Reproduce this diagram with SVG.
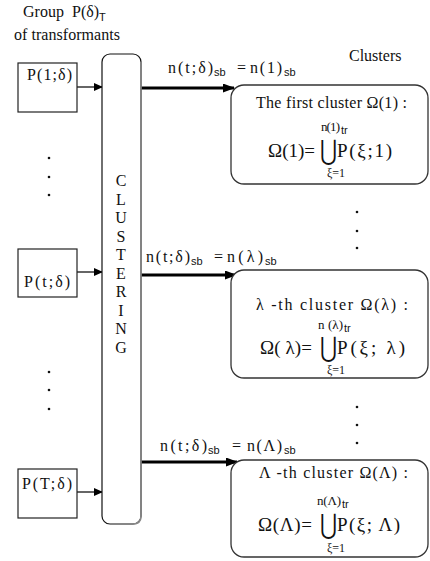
<svg xmlns="http://www.w3.org/2000/svg" width="430" height="561" viewBox="0 0 430 561">
<defs>
<marker id="ah" markerWidth="10" markerHeight="10" refX="8" refY="4" orient="auto" markerUnits="userSpaceOnUse"><path d="M0,0 L9,4 L0,8 Z" fill="#000"/></marker>
<marker id="ah2" markerWidth="12" markerHeight="10" refX="11" refY="4.5" orient="auto" markerUnits="userSpaceOnUse"><path d="M0,0 L12,4.5 L0,9 Z" fill="#000"/></marker>
<style>
text{font-family:"Liberation Serif","Times New Roman",serif;fill:#111}
.t{font-size:16px}
.sub{font-family:"Liberation Sans",Arial,sans-serif;font-size:11px}
.m{font-size:19px}
.sm{font-size:13px}
.xs{font-size:12px}
.u{font-family:"DejaVu Serif",serif;font-size:21px}
.box{fill:#fff;stroke:#222;stroke-width:1.2}
.cbox{fill:#fff;stroke:#333;stroke-width:1.3}
.dot{fill:#111}
</style>
</defs>
<rect width="430" height="561" fill="#fff"/>

<g id="title">
<text class="t" x="23" y="17">Group <tspan x="72">P(δ)</tspan><tspan class="sub" dy="4" font-size="13">T</tspan></text>
<text class="t" x="14" y="40" textLength="106">of transformants</text>
</g>
<text class="t" x="349" y="61">Clusters</text>

<g id="connectors">
<line x1="77" y1="87" x2="102" y2="87" stroke="#333" stroke-width="1.5" marker-end="url(#ah)"/>
<line x1="77" y1="272" x2="102" y2="272" stroke="#333" stroke-width="1.5" marker-end="url(#ah)"/>
<line x1="77" y1="492" x2="102" y2="492" stroke="#333" stroke-width="1.5" marker-end="url(#ah)"/>
<line x1="141" y1="88" x2="234" y2="88" stroke="#000" stroke-width="3" marker-end="url(#ah2)"/>
<line x1="141" y1="275" x2="236" y2="275" stroke="#000" stroke-width="3" marker-end="url(#ah2)"/>
<line x1="141" y1="462" x2="237" y2="462" stroke="#000" stroke-width="3" marker-end="url(#ah2)"/>
</g>

<g id="p1">
<rect class="box" x="18" y="63" width="59" height="49"/>
<text class="t" x="27" y="80" textLength="45">P(1;δ)</text>
</g>
<g id="pt">
<rect class="box" x="18" y="249" width="59" height="48"/>
<text class="t" x="24" y="287" textLength="46">P(t;δ)</text>
</g>
<g id="pT">
<rect class="box" x="18" y="469" width="59" height="49"/>
<text class="t" x="22" y="489" textLength="50">P(T;δ)</text>
</g>

<g id="dotsL">
<circle class="dot" cx="49" cy="158" r="1.3"/><circle class="dot" cx="49" cy="177" r="1.3"/><circle class="dot" cx="49" cy="195" r="1.3"/>
<circle class="dot" cx="49" cy="372" r="1.3"/><circle class="dot" cx="49" cy="390" r="1.3"/><circle class="dot" cx="49" cy="409" r="1.3"/>
</g>
<g id="dotsR">
<circle class="dot" cx="357" cy="212" r="1.3"/><circle class="dot" cx="357" cy="231" r="1.3"/><circle class="dot" cx="357" cy="248" r="1.3"/>
<circle class="dot" cx="357" cy="407" r="1.3"/><circle class="dot" cx="357" cy="425" r="1.3"/><circle class="dot" cx="357" cy="443" r="1.3"/>
</g>

<g id="clustering">
<rect x="102" y="54" width="39" height="470" rx="8" fill="#fff" stroke="#111" stroke-width="1.2"/>
<path d="M141,62 V516 Q141,524 133,524 H110" fill="none" stroke="#888" stroke-width="1.6"/>
<g class="t" text-anchor="middle">
<text x="121" y="186">C</text><text x="121" y="205">L</text><text x="121" y="223">U</text><text x="121" y="242">S</text><text x="121" y="260">T</text><text x="121" y="279">E</text><text x="121" y="297">R</text><text x="121" y="316">I</text><text x="121" y="334">N</text><text x="121" y="353">G</text>
</g>
</g>

<g id="labels">
<text class="t" x="168" y="73" textLength="45">n(t;δ)</text><text class="sub" x="214" y="76">sb</text>
<text class="t" x="237" y="73">=</text><text class="t" x="250" y="73" textLength="32">n(1)</text><text class="sub" x="284" y="76">sb</text>

<text class="t" x="146" y="262" textLength="44">n(t;δ)</text><text class="sub" x="191" y="265">sb</text>
<text class="t" x="214" y="262">=</text><text class="t" x="227" y="262" textLength="36">n(λ)</text><text class="sub" x="265" y="265">sb</text>

<text class="t" x="160" y="451" textLength="47">n(t;δ)</text><text class="sub" x="208" y="454">sb</text>
<text class="t" x="232" y="451">=</text><text class="t" x="247" y="451" textLength="35">n(Λ)</text><text class="sub" x="284" y="454">sb</text>
</g>

<g id="cluster1">
<rect class="cbox" x="231" y="85" width="197" height="99" rx="13"/>
<text class="t" x="256" y="108" textLength="151">The first cluster  Ω(1) :</text>
<text class="sm" x="321" y="131" textLength="19">n(1)</text><text class="sub" x="341" y="134">tr</text>
<text class="m" x="268" y="157" textLength="47">Ω(1)=</text>
<text class="u" transform="translate(320,160) scale(1.0,1.35)">⋃</text>
<text class="m" x="337" y="157" textLength="55">P(ξ;1)</text>
<text class="xs" x="327" y="177">ξ=1</text>
</g>

<g id="cluster2">
<rect class="cbox" x="231" y="270" width="197" height="108" rx="13"/>
<text class="t" x="256" y="310" textLength="152">λ -th cluster  Ω(λ) :</text>
<text class="sm" x="318" y="329" textLength="25">n (λ)</text><text class="sub" x="344" y="332">tr</text>
<text class="m" x="260" y="354" textLength="52">Ω( λ)=</text>
<text class="u" transform="translate(320,357) scale(1.0,1.35)">⋃</text>
<text class="m" x="337" y="354" textLength="68">P(ξ;  λ)</text>
<text class="xs" x="327" y="374">ξ=1</text>
</g>

<g id="cluster3">
<rect class="cbox" x="231" y="460" width="197" height="97" rx="13"/>
<text class="t" x="259" y="478" textLength="149">Λ -th cluster  Ω(Λ) :</text>
<text class="sm" x="317" y="505" textLength="24">n(Λ)</text><text class="sub" x="342" y="508">tr</text>
<text class="m" x="258" y="531" textLength="54">Ω(Λ)=</text>
<text class="u" transform="translate(320,534) scale(1.0,1.35)">⋃</text>
<text class="m" x="337" y="531" textLength="63">P(ξ; Λ)</text>
<text class="xs" x="327" y="552">ξ=1</text>
</g>
</svg>
